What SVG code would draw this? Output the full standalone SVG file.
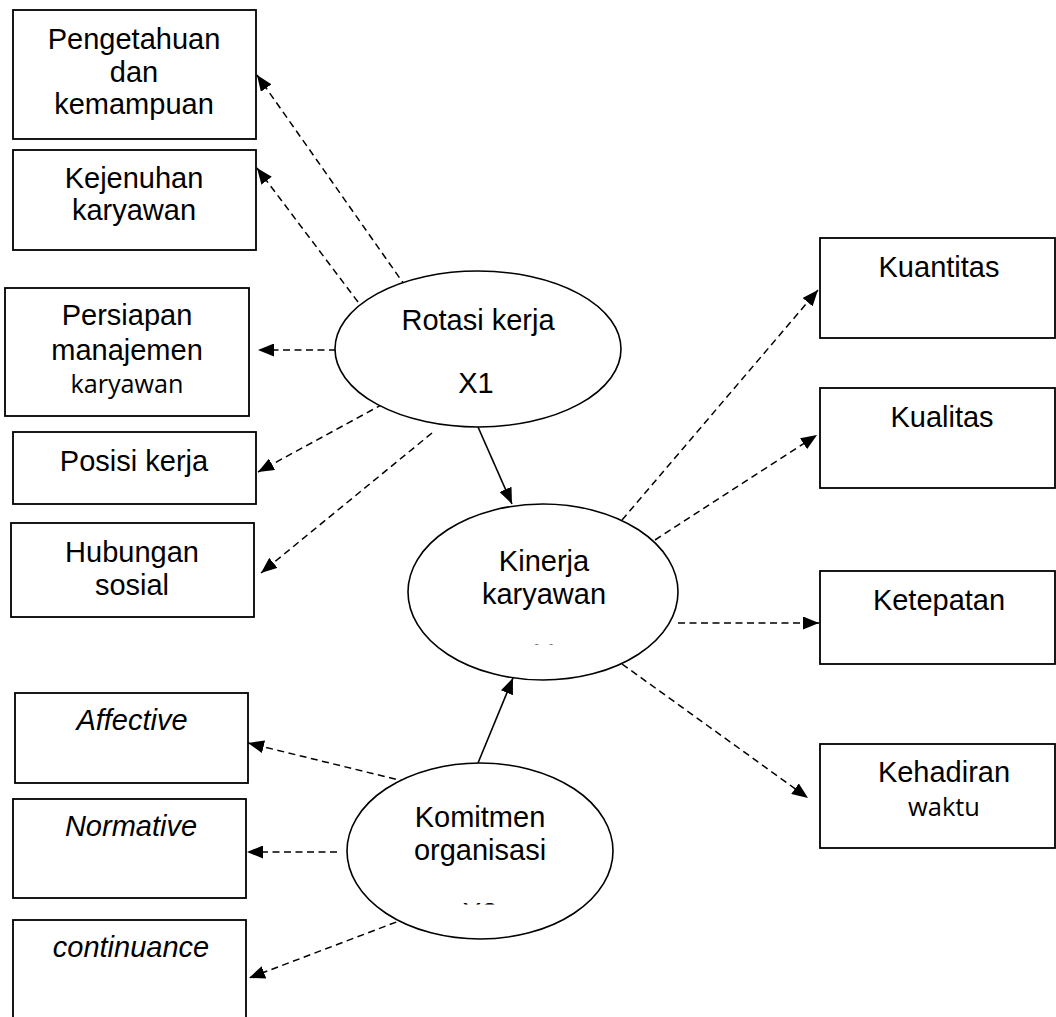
<svg xmlns="http://www.w3.org/2000/svg" width="1056" height="1017" viewBox="0 0 1056 1017">
<style>
  .box { fill: #fff; stroke: #000; stroke-width: 1.8; }
  .ell { fill: #fff; stroke: #000; stroke-width: 1.6; }
  .t { font-family: "Liberation Sans", Arial, sans-serif; font-size: 29px; fill: #000; text-anchor: middle; }
  .ti { font-style: italic; }
  .ts { font-family: "Open Sans", "Liberation Sans", sans-serif; font-size: 25px; fill: #000; text-anchor: middle; }
  .dash { fill: none; stroke: #000; stroke-width: 1.5; stroke-dasharray: 7 4.5; marker-end: url(#ah); }
  .solid { fill: none; stroke: #000; stroke-width: 1.6; marker-end: url(#ah); }
</style>
<defs>
  <marker id="ah" viewBox="0 0 16 13" refX="16" refY="6.5" markerWidth="16" markerHeight="13" orient="auto" markerUnits="userSpaceOnUse">
    <path d="M0,0 L16,6.5 L0,13 Z" fill="#000"/>
  </marker>
  <clipPath id="clipY"><rect x="520" y="630" width="50" height="14.5"/></clipPath>
  <clipPath id="clipX2"><rect x="450" y="890" width="60" height="14.5"/></clipPath>
</defs>
<rect width="1056" height="1017" fill="#fff"/>

<g id="connectors">
  <line class="dash" x1="406" y1="287" x2="257" y2="75"/>
  <line class="dash" x1="358" y1="302" x2="257" y2="168"/>
  <line class="dash" x1="336" y1="350" x2="258" y2="350"/>
  <line class="dash" x1="383" y1="404" x2="258" y2="472"/>
  <line class="dash" x1="432" y1="433" x2="261" y2="573"/>
  <line class="solid" x1="478" y1="427" x2="512" y2="504"/>
  <line class="solid" x1="478" y1="763" x2="513" y2="678"/>
  <line class="dash" x1="622" y1="520" x2="818" y2="290"/>
  <line class="dash" x1="655" y1="540" x2="817" y2="435"/>
  <line class="dash" x1="678" y1="623" x2="819" y2="623"/>
  <line class="dash" x1="622" y1="664" x2="808" y2="798"/>
  <line class="dash" x1="407" y1="782" x2="248" y2="743"/>
  <line class="dash" x1="337" y1="852" x2="247" y2="852"/>
  <line class="dash" x1="407" y1="918" x2="249" y2="978"/>
</g>

<g id="n-pengetahuan">
  <rect class="box" x="13" y="10" width="243" height="129"/>
  <text class="t" x="134" y="49">Pengetahuan</text>
  <text class="t" x="134" y="82">dan</text>
  <text class="t" x="134" y="114">kemampuan</text>
</g>
<g id="n-kejenuhan">
  <rect class="box" x="13" y="150" width="243" height="100"/>
  <text class="t" x="134" y="188">Kejenuhan</text>
  <text class="t" x="134" y="220">karyawan</text>
</g>
<g id="n-persiapan">
  <rect class="box" x="5" y="288" width="244" height="128"/>
  <text class="t" x="127" y="325">Persiapan</text>
  <text class="t" x="127" y="360">manajemen</text>
  <text class="ts" x="127" y="393" textLength="113" lengthAdjust="spacingAndGlyphs">karyawan</text>
</g>
<g id="n-posisi">
  <rect class="box" x="13" y="432" width="243" height="72"/>
  <text class="t" x="134" y="471">Posisi kerja</text>
</g>
<g id="n-hubungan">
  <rect class="box" x="11" y="523" width="243" height="94"/>
  <text class="t" x="132" y="562">Hubungan</text>
  <text class="t" x="132" y="595">sosial</text>
</g>
<g id="n-affective">
  <rect class="box" x="15" y="693" width="233" height="90"/>
  <text class="t ti" x="132" y="730">Affective</text>
</g>
<g id="n-normative">
  <rect class="box" x="13" y="799" width="233" height="99"/>
  <text class="t ti" x="131" y="836">Normative</text>
</g>
<g id="n-continuance">
  <rect class="box" x="13" y="920" width="233" height="110"/>
  <text class="t ti" x="131" y="957">continuance</text>
</g>

<g id="n-kuantitas">
  <rect class="box" x="820" y="238" width="235" height="100"/>
  <text class="t" x="939" y="277">Kuantitas</text>
</g>
<g id="n-kualitas">
  <rect class="box" x="820" y="388" width="235" height="100"/>
  <text class="t" x="942" y="427">Kualitas</text>
</g>
<g id="n-ketepatan">
  <rect class="box" x="820" y="571" width="235" height="93"/>
  <text class="t" x="939" y="610">Ketepatan</text>
</g>
<g id="n-kehadiran">
  <rect class="box" x="820" y="744" width="235" height="104"/>
  <text class="t" x="944" y="782">Kehadiran</text>
  <text class="ts" x="944" y="816" textLength="72" lengthAdjust="spacingAndGlyphs">waktu</text>
</g>

<g id="n-rotasi">
  <ellipse class="ell" cx="478" cy="349" rx="143" ry="78"/>
  <text class="t" x="478" y="330">Rotasi kerja</text>
  <text class="t" x="476" y="393">X1</text>
</g>
<g id="n-kinerja">
  <ellipse class="ell" cx="543" cy="592" rx="135" ry="88"/>
  <text class="t" x="544" y="571">Kinerja</text>
  <text class="t" x="544" y="604">karyawan</text>
  <text class="t" x="544" y="664" clip-path="url(#clipY)">Y</text>
</g>
<g id="n-komitmen">
  <ellipse class="ell" cx="480" cy="851" rx="133" ry="88"/>
  <text class="t" x="480" y="827">Komitmen</text>
  <text class="t" x="480" y="860">organisasi</text>
  <text class="t" x="480" y="923" clip-path="url(#clipX2)">X2</text>
</g>
</svg>
